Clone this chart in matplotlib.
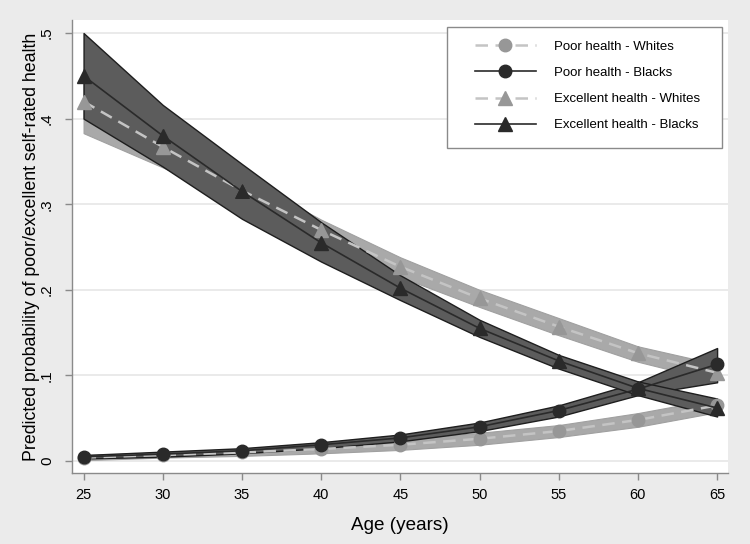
import matplotlib.pyplot as plt
from matplotlib.patches import Rectangle

plt.rcParams['font.family'] = ['Liberation Sans', 'DejaVu Sans']

ages = [25, 30, 35, 40, 45, 50, 55, 60, 65]

# predicted probabilities and confidence bands
poor_white = [0.004, 0.007, 0.010, 0.014, 0.019, 0.026, 0.035, 0.048, 0.065]
poor_white_lo = [0.001, 0.004, 0.006, 0.009, 0.013, 0.019, 0.028, 0.040, 0.057]
poor_white_hi = [0.007, 0.010, 0.014, 0.019, 0.025, 0.033, 0.042, 0.056, 0.073]

poor_black = [0.005, 0.008, 0.012, 0.019, 0.027, 0.040, 0.059, 0.084, 0.113]
poor_black_lo = [0.003, 0.005, 0.009, 0.015, 0.023, 0.035, 0.052, 0.077, 0.092]
poor_black_hi = [0.007, 0.011, 0.015, 0.022, 0.031, 0.045, 0.065, 0.092, 0.132]

exc_white = [0.420, 0.367, 0.316, 0.270, 0.227, 0.190, 0.157, 0.126, 0.103]
exc_white_lo = [0.383, 0.343, 0.302, 0.259, 0.215, 0.180, 0.147, 0.116, 0.093]
exc_white_hi = [0.455, 0.392, 0.332, 0.282, 0.238, 0.200, 0.167, 0.134, 0.113]

exc_black = [0.450, 0.380, 0.315, 0.255, 0.202, 0.155, 0.117, 0.085, 0.062]
exc_black_lo = [0.400, 0.344, 0.283, 0.233, 0.188, 0.145, 0.108, 0.077, 0.052]
exc_black_hi = [0.500, 0.416, 0.347, 0.279, 0.217, 0.165, 0.124, 0.093, 0.073]

light = '#a9a9a9'
dark = '#5c5c5c'
grey_mk = '#979797'
black_mk = '#2a2a2a'

fig = plt.figure(figsize=(7.5, 5.44), dpi=100)
fig.patch.set_facecolor('#ebebeb')
ax = fig.add_axes([0.096, 0.1305, 0.8747, 0.8327])

# bands
ax.fill_between(ages, poor_white_lo, poor_white_hi, color=light, edgecolor='#a0a0a0', lw=0.8, zorder=2)
ax.fill_between(ages, exc_white_lo, exc_white_hi, color=light, edgecolor='#a0a0a0', lw=0.8, zorder=2)
ax.fill_between(ages, poor_black_lo, poor_black_hi, color=dark, edgecolor='#1e1e1e', lw=1.0, zorder=3)
ax.fill_between(ages, exc_black_lo, exc_black_hi, color=dark, edgecolor='#1e1e1e', lw=1.0, zorder=3)

# lines
ax.plot(ages, poor_white, ls=(0, (5, 3)), color='#c4c4c4', lw=1.8, marker='o', ms=9,
        mfc=grey_mk, mec=grey_mk, label='Poor health - Whites', zorder=4)
ax.plot(ages, poor_black, ls='-', color=black_mk, lw=1.2, marker='o', ms=9,
        mfc=black_mk, mec=black_mk, label='Poor health - Blacks', zorder=5)
ax.plot(ages, exc_white, ls=(0, (5, 3)), color='#c4c4c4', lw=1.8, marker='^', ms=10,
        mfc=grey_mk, mec=grey_mk, label='Excellent health - Whites', zorder=4)
ax.plot(ages, exc_black, ls='-', color=black_mk, lw=1.2, marker='^', ms=10,
        mfc=black_mk, mec=black_mk, label='Excellent health - Blacks', zorder=5)

ax.set_xlim(24.27, 65.69)
ax.set_ylim(-0.014, 0.5152)
ax.set_xticks(ages)
ax.set_yticks([0, 0.1, 0.2, 0.3, 0.4, 0.5])
ax.set_yticklabels(['0', '.1', '.2', '.3', '.4', '.5'], rotation=90, va='center')
ax.grid(axis='y', color='#e6e6e6', lw=1.2, zorder=0)
ax.set_axisbelow(True)

for s in ['top', 'right']:
    ax.spines[s].set_visible(False)
for s in ['left', 'bottom']:
    ax.spines[s].set_color('#8a8a8a')
    ax.spines[s].set_linewidth(1.0)
ax.tick_params(colors='#8a8a8a', length=5, width=1.0, labelcolor='black', labelsize=10.5)
ax.tick_params(axis='y', pad=8, labelsize=11)
ax.tick_params(axis='x', pad=5.5)

ax.set_xlabel('Age (years)', fontsize=13.6, labelpad=11)
ax.set_ylabel('Predicted probability of poor/excellent self-rated health', fontsize=12.8, labelpad=0)

# legend box
box = Rectangle((447 / 750, 1 - 148 / 544), 275 / 750, 121 / 544, transform=fig.transFigure,
                facecolor='white', edgecolor='#8a8a8a', lw=1.0, zorder=8, clip_on=False)
ax.add_patch(box)
leg = ax.legend(loc='upper left', bbox_to_anchor=(475 / 750, 0.9255), bbox_transform=fig.transFigure,
                fontsize=9.5, frameon=False, handlelength=4.6, handletextpad=1.36,
                labelspacing=1.06, borderpad=0, borderaxespad=0)
leg.set_zorder(10)

fig.savefig('out.png', dpi=100, facecolor=fig.get_facecolor())
